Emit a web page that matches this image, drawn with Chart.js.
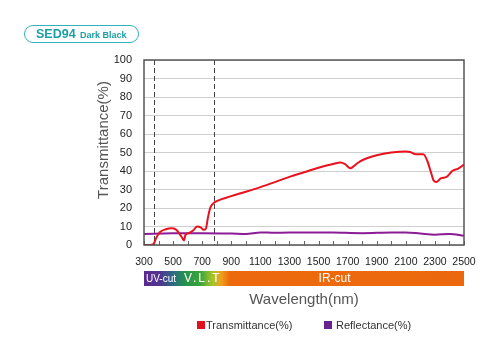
<!DOCTYPE html>
<html>
<head>
<meta charset="utf-8">
<script src="https://cdn.jsdelivr.net/npm/chart.js@4/dist/chart.umd.min.js"></script>
<style>
  html, body { margin:0; padding:0; background:#fff; }
  #wrap { position:relative; width:500px; height:350px; font-family:"Liberation Sans", Arial, sans-serif; }
  canvas { position:absolute; left:0; top:0; }
  #pill { position:absolute; left:24px; top:25px; width:113px; height:16px; border:1.5px solid #2fb3b8; border-radius:10px; }
  #pill .a { position:absolute; left:11px; top:0px; font-weight:bold; font-size:12.5px; line-height:17px; color:#1d9fa6; }
  #pill .b { position:absolute; left:55px; top:1px; font-weight:bold; font-size:9px; line-height:16px; color:#1d9fa6; }
  .lg { position:absolute; top:318px; font-size:11px; line-height:15px; color:#333; white-space:nowrap; }
  .sq { display:inline-block; width:8px; height:8px; vertical-align:-0px; margin-right:1px; }
</style>
</head>
<body>
<div id="wrap">
  <canvas id="c" width="500" height="350"></canvas>
  <div id="pill"><span class="a">SED94</span><span class="b">Dark Black</span></div>
  <div class="lg" style="left:197px;"><span class="sq" style="background:#e3101c"></span>Transmittance(%)</div>
  <div class="lg" style="left:324px;"><span class="sq" style="background:#6b2190;margin-right:4px"></span>Reflectance(%)</div>
</div>
<script>
// ---- data ----
const transWavelengths = [300,340,365,385,410,450,490,520,545,565,575,585,610,640,665,690,710,725,740,755,770,800,900,1000,1100,1200,1300,1400,1500,1600,1650,1680,1720,1760,1800,1900,2000,2100,2130,2170,2220,2250,2270,2290,2310,2340,2380,2420,2460,2500];
const transValues      = [0,0,0.5,4,7,8.5,9,8.3,6,3.5,2.5,5.5,6.5,8,10,9.5,8.2,8.8,15,20,22,23.7,26.4,28.8,31.3,34,36.8,39.3,41.8,43.8,44.6,43.8,41.5,43.8,45.8,48.5,50,50.6,50.3,49,49,45,40,35,34,36,36.8,40,41.3,43.5];
const reflWavelengths  = [300,500,700,900,1000,1100,1200,1400,1600,1800,2000,2100,2200,2300,2400,2500];
const reflValues       = [6.0,6.3,6.4,6.2,6.0,6.8,6.6,6.8,6.7,6.4,6.8,6.8,6.2,5.6,6.0,5.0];
const xTickLabels      = [300,500,700,900,1100,1300,1500,1700,1900,2100,2300,2500];
const yTickLabels      = [0,10,20,30,40,50,60,70,80,90,100];
const markerWavelengths = [372,780];
const bandLabels = ['UV-cut','V.L.T','IR-cut'];

const toPts = (xs, ys) => xs.map((x,i)=>({x:x, y:ys[i]}));

const FONT = '"Liberation Sans", Arial, sans-serif';

const deco = {
  id:'deco',
  beforeDatasetsDraw(chart){
    const {ctx, chartArea:a, scales:{x}} = chart;
    ctx.save();
    ctx.strokeStyle = '#444'; ctx.lineWidth = 1; ctx.setLineDash([5,3]);
    markerWavelengths.forEach(w=>{
      const px = Math.round(x.getPixelForValue(w))+0.5;
      ctx.beginPath(); ctx.moveTo(px,a.top); ctx.lineTo(px,a.bottom); ctx.stroke();
    });
    ctx.setLineDash([]);
    ctx.strokeStyle = '#666'; ctx.lineWidth = 1;
    x.ticks.forEach(t=>{
      const px = Math.round(x.getPixelForValue(t.value))+0.5;
      ctx.beginPath(); ctx.moveTo(px,a.bottom); ctx.lineTo(px,a.bottom-4); ctx.stroke();
    });
    ctx.restore();
  },
  afterDraw(chart){
    const {ctx, chartArea:a, scales:{x}} = chart;
    ctx.save();
    ctx.strokeStyle = '#555'; ctx.lineWidth = 1.5;
    ctx.strokeRect(a.left, a.top, a.right-a.left, a.bottom-a.top);
    const x0 = x.getPixelForValue(300), x1 = x.getPixelForValue(2500);
    const bTop = 271, bH = 15;
    const g = ctx.createLinearGradient(x0,0,x1,0);
    const stop = (w,c)=>g.addColorStop((x.getPixelForValue(w)-x0)/(x1-x0), c);
    stop(300,'#5a2a8e'); stop(410,'#50358f'); stop(500,'#2b6a82'); stop(580,'#23924c');
    stop(690,'#3ea53a'); stop(770,'#a6c52b'); stop(830,'#f0a01c'); stop(890,'#ec6a0d'); stop(2500,'#ec680c');
    ctx.fillStyle = g;
    ctx.fillRect(x0, bTop, x1-x0, bH);
    ctx.fillStyle = '#fff';
    ctx.textBaseline = 'middle';
    ctx.font = '10px ' + FONT; ctx.textAlign = 'left';
    ctx.fillText(bandLabels[0], x0+2, bTop+bH/2+0.5);
    ctx.font = '12px ' + FONT;
    ctx.letterSpacing = '2px';
    ctx.fillText(bandLabels[1], x0+40, bTop+bH/2+0.5);
    ctx.letterSpacing = '0px';
    ctx.textAlign = 'center';
    ctx.fillText(bandLabels[2], x.getPixelForValue(1500)+16, bTop+bH/2+0.5);
    ctx.fillStyle = '#555';
    ctx.font = '15px ' + FONT;
    ctx.fillText('Wavelength(nm)', (a.left+a.right)/2, 300);
    ctx.translate(104, 140); ctx.rotate(-Math.PI/2);
    ctx.fillText('Transmittance(%)', 0, 0);
    ctx.restore();
  }
};

new Chart(document.getElementById('c'), {
  type:'line',
  data:{
    datasets:[
      { label:'Transmittance(%)', data:toPts(transWavelengths, transValues), borderColor:'#e8111d', borderWidth:2, pointRadius:0, tension:0.4, cubicInterpolationMode:'monotone', fill:false },
      { label:'Reflectance(%)', data:toPts(reflWavelengths, reflValues), borderColor:'#8a1c96', borderWidth:2, pointRadius:0, tension:0.4, cubicInterpolationMode:'monotone', fill:false }
    ]
  },
  options:{
    responsive:false, animation:false,
    layout:{ padding:{ top:60, right:36, left:0, bottom:0 } },
    plugins:{ legend:{display:false}, tooltip:{enabled:false} },
    scales:{
      x:{
        type:'linear', min:300, max:2500,
        afterFit:s=>{ s.height = 105; },
        grid:{ display:false, drawTicks:false },
        border:{ display:false },
        ticks:{ stepSize:100, autoSkip:false, maxRotation:0, padding:11, color:'#222', font:{family:FONT, size:10.5},
          callback:(v)=> xTickLabels.includes(v) ? String(v) : '' }
      },
      y:{
        min:0, max:100,
        afterFit:s=>{ s.width = 144; },
        grid:{ color:'#cfcfcf', lineWidth:1, drawTicks:false },
        border:{ display:false },
        ticks:{ stepSize:10, padding:12, color:'#222', font:{family:FONT, size:11},
          callback:(v)=> yTickLabels.includes(v) ? String(v) : '' }
      }
    }
  },
  plugins:[deco]
});
</script>
</body>
</html>
